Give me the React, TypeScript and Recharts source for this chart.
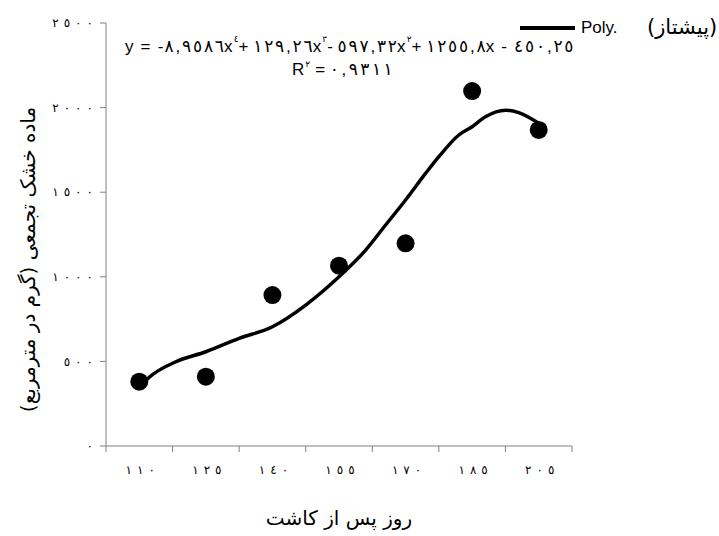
import React from 'react';
import { ComposedChart, Line, Scatter, XAxis, YAxis } from 'recharts';

const categories = ['١١٠', '١٢٥', '١٤٠', '١٥٥', '١٧٠', '١٨٥', '٢٠٥'];
const categoryPositions = [1, 2, 3, 4, 5, 6, 7];
const categoryBoundaries = [0.5, 1.5, 2.5, 3.5, 4.5, 5.5, 6.5, 7.5];
const observed = [380, 410, 892, 1066, 1198, 2098, 1868];
const trendX = [1, 1.15, 1.55, 2, 2.5, 3, 3.5, 4, 4.4, 4.7, 5, 5.3, 5.5, 5.8, 6, 6.2, 6.5, 6.7, 7];
const trendY = [345, 406, 498, 557, 636, 705, 833, 1000, 1158, 1306, 1454, 1611, 1710, 1838, 1887, 1946, 1985, 1970, 1907];
const yTickValues = [0, 500, 1000, 1500, 2000, 2500];
const yTickLabels = ['٠', '٥٠٠', '١٠٠٠', '١٥٠٠', '٢٠٠٠', '٢٥٠٠'];

const pointData = observed.map((v, i) => ({ x: categoryPositions[i], y: v }));
const trendData = trendX.map((x, i) => ({ x, y: trendY[i] }));

const AXIS = '#808080';
const LTR: any = { unicodeBidi: 'bidi-override', direction: 'ltr' };

const isArabicDigit = (c: string) => c >= '\u0660' && c <= '\u0669';

// splits a string into per-character tspans so Arabic digits get extra spacing
const spaced = (s: string, gap: number) =>
  Array.from(s).map((c, i) => (
    <tspan key={i} dx={i > 0 && (isArabicDigit(c) || c === ',') ? gap : 0}>{c}</tspan>
  ));

const Dot = (props: any) => <circle cx={props.cx} cy={props.cy} r={9} fill="#000" />;

const YTitle = (props: any) => {
  const vb = props.viewBox || {};
  const cx = vb.x + 22;
  const cy = vb.y + vb.height / 2 + 25;
  return (
    <text x={cx} y={cy} transform={`rotate(-90, ${cx}, ${cy})`} textAnchor="middle" dominantBaseline="central"
      fontFamily="DejaVu Sans" fontSize={20} fill="#000">
      ماده خشک تجمعی (گرم در مترمربع)
    </text>
  );
};

const XTitle = (props: any) => {
  const vb = props.viewBox || {};
  const cx = vb.x + vb.width / 2;
  const cy = vb.y + 66;
  return (
    <text x={cx} y={cy} textAnchor="middle" dominantBaseline="central" fontFamily="DejaVu Sans" fontSize={20} fill="#000">
      روز پس از کاشت
    </text>
  );
};

const XTick = (props: any) => {
  const label = categories[Math.round(props.payload.value) - 1] ?? '';
  return (
    <text x={props.x + 1} y={props.y} dy="0.35em" textAnchor="middle" fontFamily="DejaVu Sans" fontSize={12}
      fill="#000" style={LTR}>
      {spaced(label, 5)}
    </text>
  );
};

const YTick = (props: any) => {
  const label = yTickLabels[yTickValues.indexOf(props.payload.value)] ?? '';
  return (
    <text x={props.x} y={props.y} dy="0.35em" textAnchor="end" fontFamily="DejaVu Sans" fontSize={12}
      fill="#000" style={LTR}>
      {spaced(label, 5)}
    </text>
  );
};

const EQ_FONT = 'Liberation Sans, Arial, DejaVu Sans';

export default function App() {
  return (
    <div style={{ position: 'relative', width: 719, height: 536, background: '#fff' }}>
      <style>{`body{margin:0;background:#fff}`}</style>
      <ComposedChart width={719} height={536} margin={{ top: 23, right: 147, bottom: 44, left: 6 }}>
        <XAxis xAxisId="a_main" type="number" dataKey="x" domain={[0.5, 7.5]} ticks={categoryBoundaries}
          allowDataOverflow tickFormatter={() => ''} tickSize={6} height={6} stroke={AXIS} />
        <XAxis xAxisId="b_lab" type="number" dataKey="x" domain={[0.5, 7.5]} ticks={categoryPositions}
          allowDataOverflow axisLine={false} tickLine={false} tickSize={0} tickMargin={18} height={40}
          tick={<XTick />}
          label={{ content: <XTitle /> }} />
        <YAxis type="number" domain={[0, 2500]} ticks={yTickValues} width={100} tickSize={6} tickMargin={7}
          stroke={AXIS} allowDataOverflow
          tick={<YTick />}
          label={{ content: <YTitle /> }} />
        <Line xAxisId="a_main" data={trendData} dataKey="y" type="monotone" stroke="#000" strokeWidth={3.5}
          dot={false} isAnimationActive={false} name="Poly. (پیشتاز)" />
        <Scatter xAxisId="a_main" data={pointData} dataKey="y" shape={Dot} isAnimationActive={false} legendType="none" />
      </ComposedChart>
      <svg width={719} height={100} style={{ position: 'absolute', left: 0, top: 0, pointerEvents: 'none' }}>
        <line x1={520} y1={28} x2={575} y2={28} stroke="#000" strokeWidth={4} />
        <text x={581} y={33} fontFamily={EQ_FONT} fontSize={17} fill="#000">Poly.</text>
        <text x={647} y={34} fontFamily="DejaVu Sans" fontSize={21} fill="#000">(پیشتاز)</text>
        <text x={125} y={52} fontFamily={EQ_FONT} fontSize={17} fill="#000"
          style={{ ...LTR, letterSpacing: '1.2px' }}>
          <tspan>y = -</tspan>{spaced('٨,٩٥٨٦', 1.8)}<tspan>x</tspan><tspan dy={-10} fontSize={9}>٤</tspan>
          <tspan dy={10}>+ </tspan>{spaced('١٢٩,٢٦', 1.8)}<tspan>x</tspan><tspan dy={-10} fontSize={9}>٣</tspan>
          <tspan dy={10}>- </tspan>{spaced('٥٩٧,٣٢', 1.8)}<tspan>x</tspan><tspan dy={-10} fontSize={9}>٢</tspan>
          <tspan dy={10}>+ </tspan>{spaced('١٢٥٥,٨', 1.8)}<tspan>x - </tspan>{spaced('٤٥٠,٢٥', 1.8)}
        </text>
        <text x={292} y={75} fontFamily={EQ_FONT} fontSize={17} fill="#000" style={LTR}>
          <tspan>R</tspan><tspan dx={1} dy={-8} fontSize={9}>٢</tspan><tspan dx={5} dy={8}>= </tspan>{spaced('٠,٩٣١١', 2.5)}
        </text>
      </svg>
    </div>
  );
}
